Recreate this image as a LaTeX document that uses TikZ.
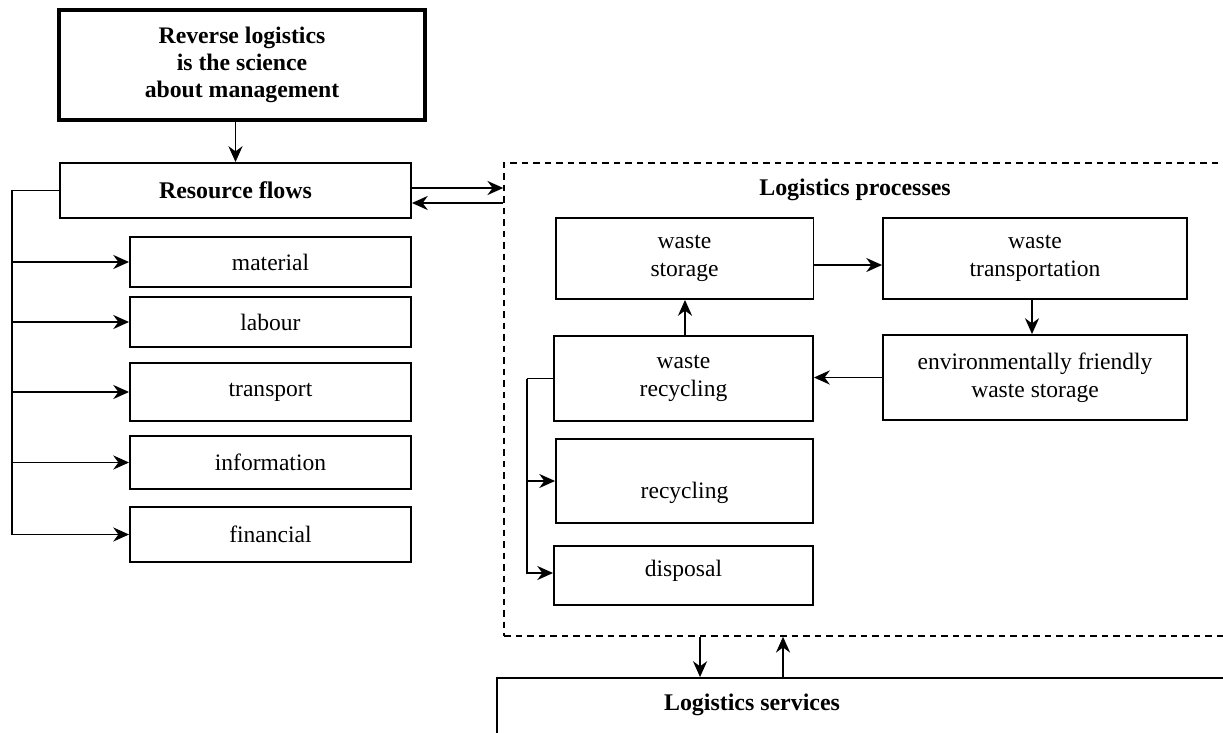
\documentclass[tikz,border=0pt]{standalone}
\usepackage{fontspec}
\setmainfont{Liberation Serif}
\usepackage{tikz}
\usetikzlibrary{arrows.meta,calc}
\tikzset{
  pbox/.style={draw=black,line width=1.1pt,align=center,inner sep=2pt,font=\fontsize{13.4}{16}\selectfont},
  tbox/.style={pbox,line width=2.6pt,font=\fontsize{13.5}{15.2}\selectfont\bfseries},
  dbox/.style={draw=black,line width=0.9pt,dash pattern=on 0.13cm off 0.1cm,inner sep=0pt},
  hd/.style={font=\fontsize{13.6}{15}\selectfont\bfseries,inner sep=0pt},
  lnk/.style={line width=1.1pt},
  arr/.style={-{Stealth[length=9pt,width=8pt]},line width=1.1pt},
}

\begin{document}
\begin{tikzpicture}[x=0.02cm,y=-0.02cm]
    \useasboundingbox (0,0) rectangle (1223,733);
    \clip (0,0) rectangle (1223,733);
    % left part
    \node[tbox,minimum width=7.32cm,minimum height=2.2cm] (title) at (242,65) {Reverse logistics\\is the science\\about management};
    \node[pbox,font=\fontsize{13.6}{15}\selectfont\bfseries,minimum width=7.02cm,minimum height=1.1cm] (rf) at (235.5,190.5) {Resource flows};
    \foreach \n/\y/\h/\t in {mat/262/1.0/material,lab/322/1.0/labour,tra/392/1.16/transport,inf/462.5/1.06/information,fin/534.5/1.1/financial}
      \node[pbox,minimum width=5.62cm,minimum height=\h cm] (\n) at (270.5,\y) {\t};
    \draw[arr] (title.south -| rf.north) -- (rf.north);
    \draw[lnk] (rf.west) -- ++(-47,0) coordinate (rfb);
    \foreach \n in {mat,lab,tra,inf,fin}
      \draw[arr] (rfb) |- (\n.west);
    % logistics processes
    \node[dbox,minimum width=14.72cm,minimum height=9.46cm] (proc) at (872,399.5) {};
    \node[hd] (proct) at (855,190) {Logistics processes};
    \draw[arr] ([yshift=0.05cm]rf.east) -- ([yshift=0.05cm]rf.east -| proc.west);
    \draw[arr] ([yshift=-0.25cm]rf.east -| proc.west) -- ([yshift=-0.25cm]rf.east);
    \node[pbox,minimum width=5.16cm,minimum height=1.62cm] (ws) at (684.5,258.5) {waste\\storage};
    \node[pbox,minimum width=6.08cm,minimum height=1.62cm] (wt) at (1035,258.5) {waste\\transportation};
    \node[pbox,minimum width=6.08cm,minimum height=1.7cm] (efws) at (1035,377.5) {environmentally friendly\\waste storage};
    \node[pbox,minimum width=5.18cm,minimum height=1.7cm] (wr) at (683.5,378.5) {waste\\recycling};
    \node[pbox,minimum width=5.14cm,minimum height=1.68cm] (rec) at (684.5,481) {\raisebox{-0.24cm}[\height][\depth]{recycling}};
    \node[pbox,minimum width=5.18cm,minimum height=1.18cm] (disp) at (683.5,575.5) {\raisebox{0.1cm}[\height][\depth]{disposal}};
    \draw[arr] ([yshift=-0.13cm]ws.east) -- ([yshift=-0.13cm]ws.east -| wt.west);
    \draw[arr] ([xshift=-0.06cm]wt.south) -- ([xshift=-0.06cm]efws.north);
    \draw[arr] (efws.west) -- (efws.west -| wr.east);
    \draw[arr] ([xshift=0.03cm]wr.north) -- ([xshift=0.03cm]wr.north |- ws.south);
    \draw[lnk] (wr.west) -- ++(-26,0) coordinate (wrb);
    \draw[arr] (wrb) |- (rec.west);
    \draw[arr] (wrb) |- ([yshift=0.05cm]disp.west);
    % logistics services
    \node[pbox,minimum width=14.86cm,minimum height=1.64cm] (serv) at (868.5,719) {};
    \node[hd] (servt) at (752,705) {Logistics services};
    \draw[arr] ([xshift=-3.44cm]proc.south) -- ([xshift=-3.44cm]proc.south |- serv.north);
    \draw[arr] ([xshift=-1.78cm]proc.south |- serv.north) -- ([xshift=-1.78cm]proc.south);
  \end{tikzpicture}
\end{document}
